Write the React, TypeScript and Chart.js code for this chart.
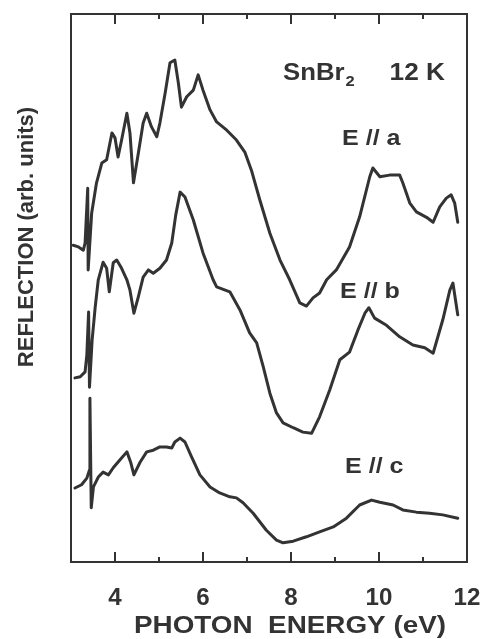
import React, { useEffect, useRef } from "react";
import { Chart, registerables } from "chart.js";

Chart.register(...registerables);

// Photon energy (eV) and reflection (arb. units) for the three polarisations.
const energyA = [3.05, 3.17, 3.28, 3.32, 3.38, 3.39, 3.47, 3.58, 3.7, 3.81, 3.93, 4.0, 4.07, 4.15, 4.27, 4.34, 4.42, 4.53, 4.64, 4.72, 4.83, 4.95, 5.02, 5.14, 5.25, 5.36, 5.44, 5.51, 5.63, 5.78, 5.89, 6.0, 6.16, 6.31, 6.54, 6.76, 6.95, 7.1, 7.29, 7.52, 7.75, 7.97, 8.2, 8.35, 8.5, 8.65, 8.81, 9.03, 9.33, 9.56, 9.79, 9.86, 10.02, 10.24, 10.47, 10.54, 10.7, 10.85, 11.08, 11.23, 11.38, 11.53, 11.64, 11.72, 11.79];
const reflA = [57.8, 57.5, 56.9, 58.2, 68.2, 53.3, 63.7, 69.2, 72.8, 73.4, 78.3, 77.4, 73.9, 77.0, 81.9, 78.3, 69.2, 74.6, 80.1, 81.9, 79.4, 77.6, 80.1, 85.6, 91.1, 91.6, 87.4, 83.0, 84.9, 86.1, 88.9, 86.1, 82.5, 80.3, 78.8, 77.0, 74.8, 71.5, 66.1, 60.0, 55.1, 51.5, 47.3, 46.7, 48.2, 49.1, 51.5, 53.3, 57.5, 63.0, 70.3, 71.9, 70.3, 70.6, 70.6, 69.2, 65.5, 63.9, 62.9, 62.0, 64.8, 66.4, 67.0, 65.5, 62.0];

const energyB = [3.09, 3.21, 3.32, 3.36, 3.4, 3.42, 3.48, 3.55, 3.62, 3.73, 3.81, 3.87, 3.96, 4.04, 4.15, 4.27, 4.34, 4.43, 4.53, 4.64, 4.76, 4.87, 5.02, 5.17, 5.29, 5.38, 5.48, 5.59, 5.78, 6.0, 6.23, 6.31, 6.61, 6.84, 7.06, 7.22, 7.37, 7.52, 7.67, 7.82, 8.05, 8.27, 8.47, 8.65, 8.88, 9.11, 9.33, 9.52, 9.68, 9.77, 9.9, 10.17, 10.47, 10.77, 11.04, 11.23, 11.45, 11.61, 11.68, 11.79];
const reflB = [33.6, 33.8, 34.7, 37.8, 45.6, 31.9, 40.5, 46.5, 51.5, 54.7, 53.6, 49.3, 54.6, 55.1, 53.6, 51.5, 49.6, 45.4, 48.4, 52.0, 53.3, 52.7, 53.6, 55.1, 58.2, 63.3, 67.5, 66.6, 62.4, 56.4, 51.5, 50.2, 49.3, 46.0, 41.8, 40.0, 35.6, 30.8, 27.2, 25.4, 24.5, 23.7, 23.5, 26.5, 31.4, 36.9, 38.3, 42.3, 45.4, 46.4, 44.5, 43.2, 41.1, 39.6, 39.1, 38.1, 44.2, 49.6, 50.9, 45.1];

const energyC = [3.09, 3.24, 3.36, 3.42, 3.43, 3.46, 3.51, 3.62, 3.73, 3.85, 3.96, 4.11, 4.27, 4.36, 4.43, 4.57, 4.72, 4.87, 5.02, 5.17, 5.29, 5.36, 5.48, 5.59, 5.74, 5.93, 6.16, 6.38, 6.61, 6.76, 6.91, 7.14, 7.44, 7.67, 7.82, 8.05, 8.35, 8.65, 8.96, 9.26, 9.56, 9.83, 10.02, 10.32, 10.54, 10.85, 11.15, 11.45, 11.79];
const reflC = [13.5, 14.1, 15.3, 16.8, 29.9, 9.9, 13.7, 15.5, 16.4, 15.9, 17.2, 18.6, 20.1, 18.1, 15.9, 18.2, 20.1, 20.4, 21.0, 21.0, 20.8, 21.9, 22.6, 21.9, 19.2, 15.9, 13.7, 12.6, 11.9, 11.7, 10.8, 8.9, 5.8, 4.0, 3.5, 3.8, 4.6, 5.5, 6.4, 8.0, 10.4, 11.3, 10.9, 10.4, 9.5, 9.1, 8.9, 8.6, 8.0];

const majorTicks = [4, 6, 8, 10, 12];
const minorTicks = [5, 7, 9, 11];
const tickLabels = ["4", "6", "8", "10", "12"];
const curveLabels = ["E // a", "E // b", "E // c"];

const INK = "#333333";
const FAMILY = '"Liberation Sans", Arial, Helvetica, sans-serif';

function boldText(
  ctx: CanvasRenderingContext2D,
  text: string,
  x: number,
  y: number,
  size: number,
  sx: number,
  align: "left" | "center" | "right"
) {
  ctx.save();
  ctx.font = `bold ${size}px ${FAMILY}`;
  const w = ctx.measureText(text).width * sx;
  const left = align === "center" ? x - w / 2 : align === "right" ? x - w : x;
  ctx.translate(left, y);
  ctx.scale(sx, 1);
  ctx.textAlign = "left";
  ctx.textBaseline = "alphabetic";
  ctx.fillStyle = INK;
  ctx.fillText(text, 0, 0);
  ctx.restore();
  return w;
}

const framePlugin = {
  id: "frameAndLabels",
  afterDraw(chart: any) {
    const { ctx, chartArea } = chart;
    const { left, right, top, bottom } = chartArea;
    const xs = chart.scales.x;
    ctx.save();
    ctx.strokeStyle = INK;
    ctx.lineWidth = 2;
    ctx.strokeRect(left, top, right - left, bottom - top);

    // inward ticks on top and bottom edges
    const tick = (v: number, len: number) => {
      const px = Math.round(xs.getPixelForValue(v));
      ctx.beginPath();
      ctx.moveTo(px, bottom);
      ctx.lineTo(px, bottom - len);
      ctx.moveTo(px, top);
      ctx.lineTo(px, top + len);
      ctx.stroke();
    };
    majorTicks.forEach((v) => tick(v, 10));
    minorTicks.forEach((v) => tick(v, 5));

    majorTicks.forEach((v, i) => {
      boldText(ctx, tickLabels[i], xs.getPixelForValue(v), bottom + 43, 23, 1.05, "center");
    });

    boldText(ctx, "PHOTON  ENERGY (eV)", (left + right) / 2 + 21, bottom + 71, 24, 1.16, "center");

    // rotated y-axis title
    ctx.save();
    ctx.translate(33, 237);
    ctx.rotate(-Math.PI / 2);
    boldText(ctx, "REFLECTION (arb. units)", 0, 0, 22, 1.0, "center");
    ctx.restore();

    // sample and temperature
    const w = boldText(ctx, "SnBr", 283, 80, 23, 1.12, "left");
    boldText(ctx, "2", 283 + w + 1, 86, 15, 1.1, "left");
    boldText(ctx, "12 K", 445, 80, 23, 1.14, "right");

    boldText(ctx, curveLabels[0], 342, 145, 22, 1.14, "left");
    boldText(ctx, curveLabels[1], 340, 298, 22, 1.14, "left");
    boldText(ctx, curveLabels[2], 345, 473, 22, 1.14, "left");
    ctx.restore();
  },
};

function toPoints(xs: number[], ys: number[]) {
  return xs.map((x, i) => ({ x, y: ys[i] }));
}

export default function App() {
  const ref = useRef<HTMLCanvasElement | null>(null);

  useEffect(() => {
    if (!ref.current) return;
    const line = (data: { x: number; y: number }[], label: string) => ({
      label,
      data,
      borderColor: INK,
      borderWidth: 3,
      pointRadius: 0,
      tension: 0,
      fill: false,
      borderJoinStyle: "round" as const,
      borderCapStyle: "round" as const,
    });
    const chart = new Chart(ref.current, {
      type: "line",
      data: {
        datasets: [
          line(toPoints(energyA, reflA), curveLabels[0]),
          line(toPoints(energyB, reflB), curveLabels[1]),
          line(toPoints(energyC, reflC), curveLabels[2]),
        ],
      },
      options: {
        responsive: false,
        animation: false,
        devicePixelRatio: 1,
        layout: { padding: { left: 71, right: 18, top: 14, bottom: 77 } },
        plugins: { legend: { display: false }, tooltip: { enabled: false } },
        scales: {
          x: { type: "linear", min: 3, max: 12, display: false },
          y: { type: "linear", min: 0, max: 100, display: false },
        },
      },
      plugins: [framePlugin],
    });
    return () => chart.destroy();
  }, []);

  return (
    <div style={{ position: "absolute", left: 0, top: 0, width: 485, height: 639, background: "#fff" }}>
      <canvas ref={ref} width={485} height={639} />
    </div>
  );
}
